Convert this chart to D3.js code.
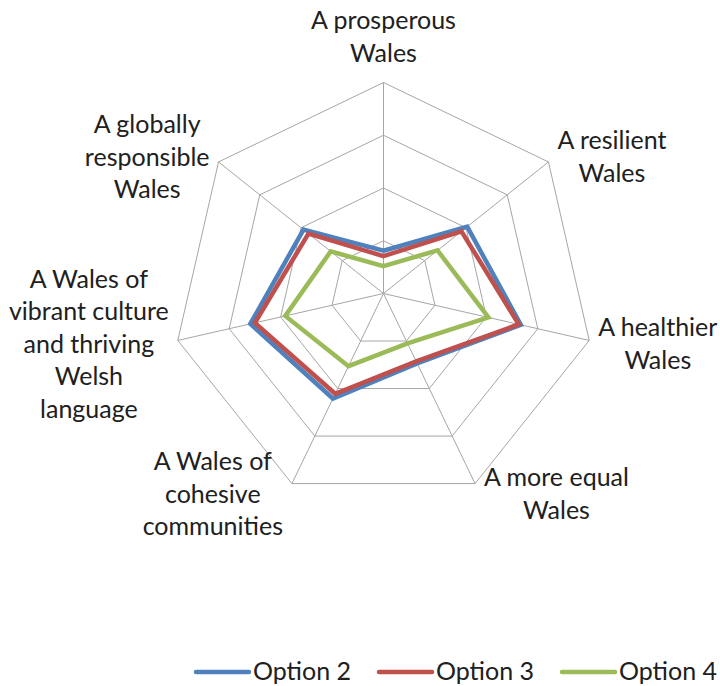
<!DOCTYPE html>
<html>
<head>
<meta charset="utf-8">
<script src="https://cdn.jsdelivr.net/npm/d3@7"></script>
<style>
  body { margin: 0; background: #fff; }
  text { font-family: Lato, "Open Sans", sans-serif; fill: #202020; }
</style>
</head>
<body>
<div id="radar-viz"></div>
<script>
// axis labels, clockwise from the top (lines split like the original)
var categories = [
    ["A prosperous", "Wales"],
    ["A resilient", "Wales"],
    ["A healthier", "Wales"],
    ["A more equal", "Wales"],
    ["A Wales of", "cohesive", "communities"],
    ["A Wales of", "vibrant culture", "and thriving", "Welsh", "language"],
    ["A globally", "responsible", "Wales"]
]

var seriesNames = ["Option 2", "Option 3", "Option 4"]
var option2 = [0.81, 2.03, 2.67, 1.47, 2.21, 2.59, 1.94]
var option3 = [0.71, 1.89, 2.63, 1.43, 2.11, 2.50, 1.82]
var option4 = [0.52, 1.31, 2.04, 1.05, 1.53, 1.91, 1.28]
var ringTicks = [1, 2, 3, 4]

var seriesColors = ["#4F81BD", "#C0504D", "#9BBB59"]
var seriesValues = [option2, option3, option4]

// set the dimensions of the graph
var width = 720
var height = 686
var cx = 383.5
var cy = 293.5
var radius = 211

var svg = d3.select("#radar-viz")
    .append("svg")
    .attr("width", width)
    .attr("height", height)

var g = svg.append("g")
    .attr("transform", "translate(" + cx + "," + cy + ")")

// radial scale and angle per axis
var r = d3.scaleLinear()
    .domain([0, 4])
    .range([0, radius])

var angle = d3.scaleLinear()
    .domain([0, categories.length])
    .range([0, 2 * Math.PI])

function point(i, v) {
    var a = angle(i)
    return [r(v) * Math.sin(a), -r(v) * Math.cos(a)]
}

// grid rings (polygons)
g.selectAll("ring")
    .data(ringTicks)
    .enter()
    .append("polygon")
    .attr("points", function(t) {
        return categories.map(function(c, i) { return point(i, t) }).join(" ")
    })
    .attr("fill", "none")
    .attr("stroke", "#A6A6A6")
    .attr("stroke-width", 1)

// spokes
g.selectAll("spoke")
    .data(categories)
    .enter()
    .append("line")
    .attr("x1", 0)
    .attr("y1", 0)
    .attr("x2", function(d, i) { return point(i, r.domain()[1])[0] })
    .attr("y2", function(d, i) { return point(i, r.domain()[1])[1] })
    .attr("stroke", "#A6A6A6")
    .attr("stroke-width", 1)

// series lines
var line = d3.line()
    .curve(d3.curveLinearClosed)

g.selectAll("series")
    .data(seriesValues)
    .enter()
    .append("path")
    .attr("d", function(vals) {
        return line(vals.map(function(v, i) { return point(i, v) }))
    })
    .attr("fill", "none")
    .attr("stroke", function(d, i) { return seriesColors[i] })
    .attr("stroke-width", 4.5)
    .attr("stroke-linejoin", "miter")

// axis labels: a block of centred lines placed next to each outer vertex
var fontSize = 25
var lineH = 32.5
categories.forEach(function(lines, i) {
    var a = angle(i)
    var vtx = point(i, r.domain()[1])
    var lab = g.append("text")
        .attr("font-size", fontSize)
        .attr("text-anchor", "middle")
    lines.forEach(function(s, k) {
        lab.append("tspan").attr("x", 0).attr("y", k * lineH).text(s)
    })
    var bb = lab.node().getBBox()
    var sin = Math.sin(a), cos = Math.cos(a)
    var bx, by
    if (Math.abs(sin) < 0.01) {
        bx = vtx[0]
        by = vtx[1] - 16 - bb.height / 2
    } else {
        bx = sin > 0 ? vtx[0] + 9 + bb.width / 2 : vtx[0] - 9 - bb.width / 2
        by = vtx[1] - cos * 10
    }
    lab.attr("transform", "translate(" + bx + "," + (by - (bb.y + bb.height / 2)) + ")")
})

// legend
var legendX = [196, 379, 562]
var legend = svg.selectAll("legend")
    .data(seriesNames)
    .enter()
    .append("g")
    .attr("transform", function(d, i) { return "translate(" + legendX[i] + ",672)" })

legend.append("line")
    .attr("x1", 0)
    .attr("x2", 53)
    .attr("stroke", function(d, i) { return seriesColors[i] })
    .attr("stroke-width", 4.5)
    .attr("stroke-linecap", "round")

legend.append("text")
    .attr("x", 57)
    .attr("y", 8)
    .attr("font-size", fontSize)
    .text(function(d) { return d })
</script>
</body>
</html>
